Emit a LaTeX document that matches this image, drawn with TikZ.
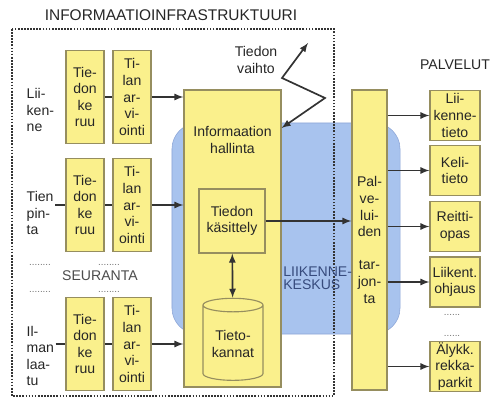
\documentclass[tikz,border=0pt]{standalone}
\usepackage{fontspec}
\setmainfont{Liberation Sans}
\usepackage{tikz}
\usetikzlibrary{positioning}
\usetikzlibrary{shapes.geometric}
\usepackage{xcolor}

\definecolor{boxyellow}{RGB}{250,240,140}
\definecolor{boxedge}{RGB}{150,142,95}
\definecolor{centerblue}{RGB}{168,195,238}
\definecolor{centeredge}{RGB}{140,165,215}
\definecolor{textblue}{RGB}{55,75,125}

\tikzset{
    ybox/.style={draw=boxedge, fill=boxyellow, line width=0.8pt, align=center, inner sep=1pt},
    link/.style={draw=black!80, line width=1.2pt},
    frame/.style={draw=black!80, densely dotted, line width=1.2pt},
    rowlabel/.style={align=left, anchor=west, inner sep=1pt},
    dots/.style={text=black!55, font=\scriptsize, inner sep=0pt},
}

\begin{document}
\begin{tikzpicture}[x=0.025cm, y=-0.025cm, >=latex, font=\fontsize{10}{11.8}\selectfont, text=black!85]
    \useasboundingbox (0,0) rectangle (490,398);

    % Liikennekeskus background
    \node[draw=centeredge, fill=centerblue, rounded corners=0.65cm, minimum width=5.7cm, minimum height=5.275cm] (keskus) at (286,228.5) {};

    % Infrastructure frame
    \draw[frame] (12,29) rectangle (334,396);
    \node[font=\fontsize{11}{13}\selectfont] (infra) at (171,15) {INFORMAATIOINFRASTRUKTUURI};

    % Seuranta rows
    \foreach \r/\y in {1/97, 2/205, 3/344} {
        \node[ybox, minimum width=0.95cm, minimum height=2.325cm] (keruu\r) at (85,\y) {Tie-\\don\\ke\\ruu};
        \node[ybox, minimum width=0.95cm, minimum height=2.325cm] (arvio\r) at (132,\y) {Ti-\\lan\\ar-\\vi-\\ointi};
    }
    \node[rowlabel] (lab1) at (25,110) {Lii-\\ken-\\ne};
    \node[rowlabel] (lab2) at (25,213) {Tien\\pin-\\ta};
    \node[rowlabel] (lab3) at (25,356) {Il-\\man\\laa-\\tu};

    \node[font=\fontsize{10}{12}\selectfont, text=black!70] (seuranta) at (100,276) {SEURANTA};
    \node[dots] (sd1) at (40,265) {........};
    \node[dots] (sd2) at (109,265) {........};
    \node[dots] (sd3) at (40,292) {........};
    \node[dots] (sd4) at (109,292) {........};

    % Informaation hallinta
    \node[ybox, minimum width=2.425cm, minimum height=7.425cm] (hall) at (232.5,238.5) {};
    \node[align=center] (hallt) at (232.5,140) {Informaation\\hallinta};
    \node[ybox, minimum width=1.65cm, minimum height=1.6cm] (kas) at (232,221) {Tiedon\\käsittely};
    \node[ybox, cylinder, shape border rotate=90, aspect=0.3, minimum width=1.5cm, minimum height=2.05cm] (db) at (233,344) {Tieto-\\kannat};
    \draw[link, <->] (kas) -- (db);

    \foreach \r in {1,2,3} {
        \draw[link] (keruu\r) -- (arvio\r);
        \draw[link, ->] (arvio\r) -- (arvio\r -| hall.west);
    }
    \draw[link] (lab2.east |- keruu2.west) -- (keruu2.west);
    \draw[link] (lab3.east |- keruu3.west) -- (keruu3.west);

    % Tiedon vaihto
    \node[align=center] (vaihto) at (256,60) {Tiedon\\vaihto};
    \coordinate (vx) at (308,43);
    \draw[link, <->] (hall.east |- 0,128) -- (325,98) -- (282,78) -- (vx);

    % Palveluiden tarjonta
    \node[ybox, minimum width=0.875cm, minimum height=7.5cm] (pal) at (369.5,240) {Pal-\\ve-\\lui-\\den\\ \\tar-\\jon-\\ta};
    \draw[link, ->] (kas.east) -- (kas.east -| pal.west);
    \node[anchor=west, align=left, text=textblue, font=\fontsize{10}{9.5}\selectfont, inner sep=0pt] (kktext) at (283,278) {LIIKENNE-\\KESKUS};

    % Palvelut
    \node (palvelut) at (455,65) {PALVELUT};
    \foreach \n/\y/\txt in {lt/115.5/{Lii-\\kenne-\\tieto}, kt/170.5/{Keli-\\tieto}, ro/226.5/{Reitti-\\opas}, lo/282/{Liikent.\\ohjaus}, rp/366.5/{Älykk.\\rekka-\\parkit}} {
        \node[ybox, minimum width=1.25cm, minimum height=1.25cm] (\n) at (455,\y) {\txt};
        \draw[link, ->] (\n.west -| pal.east) -- (\n.west);
    }
    \node[dots] (pd1) at (452,315) {......};
    \node[dots] (pd2) at (452,336) {......};
\end{tikzpicture}
\end{document}
